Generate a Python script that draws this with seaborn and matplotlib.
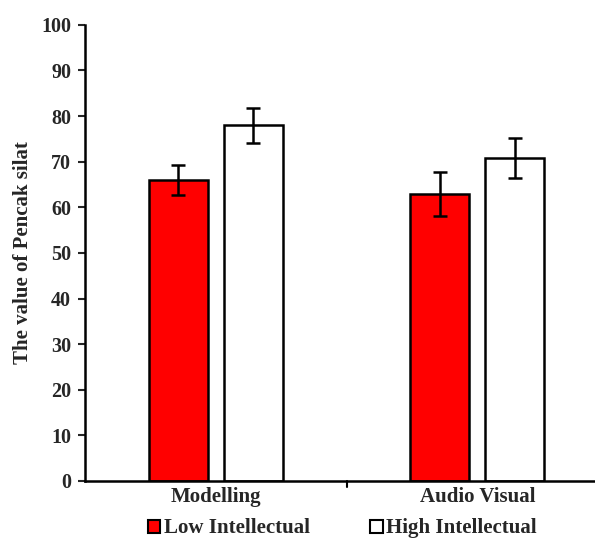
import matplotlib
matplotlib.use("Agg")
import matplotlib.pyplot as plt
import seaborn as sns
import pandas as pd
from matplotlib.patches import Patch

# data
methods = ["Modelling", "Audio Visual"]
groups = ["Low Intellectual", "High Intellectual"]
low_means = [66.0, 63.0]
high_means = [78.0, 70.8]
low_err = [3.3, 4.8]
high_err = [3.8, 4.3]
bar_colors = ["#ff0000", "#ffffff"]

df = pd.DataFrame({
    "method": methods * 2,
    "group": [groups[0]] * 2 + [groups[1]] * 2,
    "value": low_means + high_means,
    "err": low_err + high_err,
})

sns.set_style("white")
plt.rcParams["font.family"] = ["Liberation Serif", "DejaVu Serif"]
plt.rcParams["font.weight"] = "bold"

fig = plt.figure(figsize=(5.95, 5.41), dpi=100)
ax = fig.add_axes([0.143, 0.111, 0.857, 0.843])

sns.barplot(data=df, x="method", y="value", hue="group", hue_order=groups,
            palette=bar_colors, saturation=1, width=0.573, gap=0.21,
            edgecolor="black", linewidth=1.8, errorbar=None, legend=False, ax=ax)

# error bars on top of each bar
for cont, g in zip(ax.containers, groups):
    sub = df[df["group"] == g]
    xs = [p.get_x() + p.get_width() / 2 for p in cont.patches]
    ax.errorbar(xs, sub["value"], yerr=sub["err"], fmt="none", ecolor="black",
                elinewidth=1.8, capsize=5, capthick=1.8, zorder=5)

ax.set_ylim(0, 100)
ax.set_yticks(range(0, 101, 10))
ax.set_xlim(-0.5, 1.45)
ax.set_xticks([0, 1])
ax.set_xticklabels(methods, fontsize=15, fontweight="bold")
ax.set_yticklabels([str(v) for v in range(0, 101, 10)], fontsize=14.5, fontweight="bold")
ax.set_xlabel("")
ax.set_ylabel("The value of Pencak silat", fontsize=15, fontweight="bold", labelpad=6)

# Excel style: ticks between categories
ax.tick_params(axis="x", length=0, pad=4)
ax.tick_params(axis="y", direction="out", length=5, width=1.5, left=True, pad=5)
for v in [0.5]:
    ax.plot([v, v], [0, -1.3], color="black", lw=1.5, clip_on=False)

for s in ["top", "right"]:
    ax.spines[s].set_visible(False)
for s in ["left", "bottom"]:
    ax.spines[s].set_linewidth(1.8)
    ax.spines[s].set_color("black")

handles = [Patch(facecolor=c, edgecolor="black", linewidth=1.5) for c in bar_colors]
fig.legend(handles, groups, loc="lower center", bbox_to_anchor=(0.575, -0.03),
           ncol=2, frameon=False, handlelength=0.6, handleheight=0.6,
           handletextpad=0.15, columnspacing=2.9,
           prop={"size": 15, "weight": "bold"})

fig.savefig("out.png", dpi=100)
